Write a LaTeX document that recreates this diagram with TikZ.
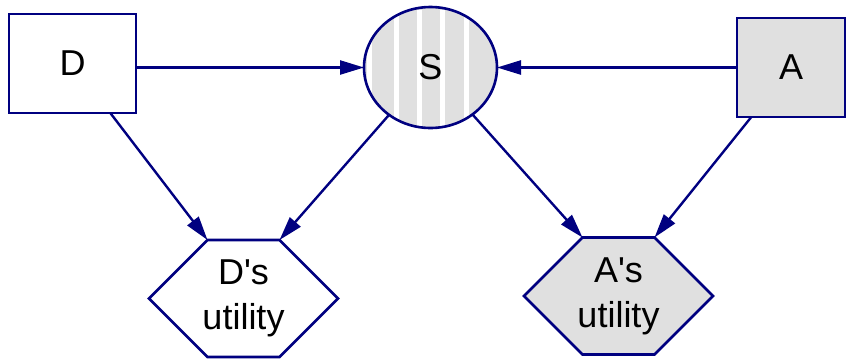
\documentclass[tikz,border=0pt]{standalone}
\usepackage{fontspec}
\setmainfont{Liberation Sans}
\newfontfamily\labelface{Liberation Sans}
\usetikzlibrary{arrows.meta,calc,shapes.geometric,backgrounds}
\definecolor{navy}{RGB}{0,0,128}
\definecolor{shade}{RGB}{224,224,224}
\begin{document}
\begin{tikzpicture}[x=1pt,y=-1pt,
  label font/.style={font=\labelface\fontsize{36}{45}\selectfont, align=center},
  edge/.style={draw=navy, line width=2.6pt},
  arr/.style={navy, line width=2.4pt, -{Triangle[length=24pt,width=14pt]}},
  decision/.style={edge, label font, rectangle, inner sep=0pt, outer sep=0pt,
    minimum width=#1, minimum height=99pt},
  chance/.style={edge, label font, ellipse, inner sep=0pt, outer sep=0pt,
    minimum width=133pt, minimum height=121pt},
  utility/.style={label font, rectangle, inner sep=0pt, outer sep=0pt,
    minimum width=189pt, minimum height=117pt},
  hexagon/.style={edge, line join=miter}
]
\useasboundingbox (0,0) rectangle (846,360);

% decision nodes
\node[decision=127pt] (D) at (72.5,63.5) {D};
\node[decision=108pt, fill=shade] (A) at (791,67.5) {A};

% chance node with vertical stripes (path picture is centred on the node)
\node[chance, fill=shade,
  path picture={
    \foreach \x in {-51.5,-24,-1.5,21.5,45.5}
      \fill[white] (\x,-70) rectangle ++(5,140);
  }] (S) at (430.5,67.5) {S};

% utility nodes: text node, hexagon drawn behind it
\node[utility] (DU) at (243.5,298.5) {D's\\utility};
\node[utility] (AU) at (618.5,296) {A's\\utility};

\foreach \n/\f in {DU/white, AU/shade} {
  \coordinate (\n-tl) at ($(\n.north west)+(58.5,0)$);
  \coordinate (\n-tr) at ($(\n.north east)-(58.5,0)$);
  \coordinate (\n-bl) at ($(\n.south west)+(58.5,0)$);
  \coordinate (\n-br) at ($(\n.south east)-(58.5,0)$);
  \begin{scope}[on background layer]
    \draw[hexagon, fill=\f] (\n.west) -- (\n-tl) -- (\n-tr) -- (\n.east)
      -- (\n-br) -- (\n-bl) -- cycle;
  \end{scope}
}

% influence arcs
\draw[arr] (D.east |- S.west) -- (S.west);
\draw[arr] (A.west |- S.east) -- (S.east);
\draw[arr] (D) -- (DU-tl);
\draw[arr] (S) -- (DU-tr);
\draw[arr] (S) -- (AU-tl);
\draw[arr] (A) -- (AU-tr);
\end{tikzpicture}
\end{document}
